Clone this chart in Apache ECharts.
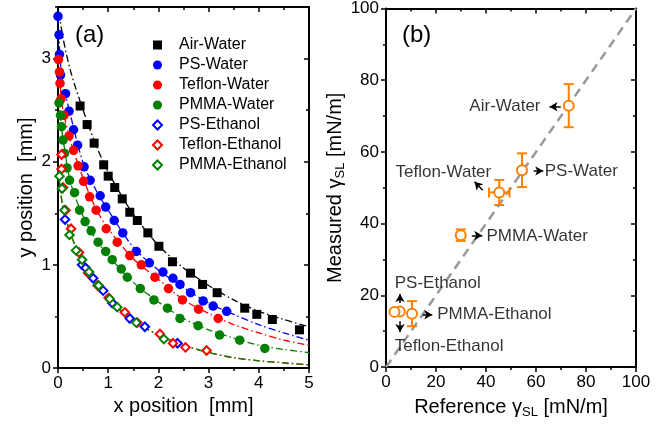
<!DOCTYPE html>
<html>
<head>
<meta charset="utf-8">
<script src="https://cdn.jsdelivr.net/npm/echarts@6/dist/echarts.min.js"></script>
<style>
html, body { margin: 0; padding: 0; background: #fff; }
#main { width: 670px; height: 424px; }
</style>
</head>
<body>
<div id="main"></div>
<script>
// (a) meniscus profiles, points are [x mm, y mm]
var airWater = [[0.44,2.54],[0.58,2.36],[0.72,2.18],[0.91,1.97],[1.00,1.86],[1.13,1.75],[1.28,1.64],[1.43,1.51],[1.58,1.43],[1.79,1.31],[2.01,1.18],[2.28,1.03],[2.64,0.92],[2.88,0.81],[3.17,0.73],[3.72,0.58],[3.96,0.52],[4.27,0.47],[4.81,0.37]];
var psWater = [[0.00,3.41],[0.02,3.23],[0.03,3.04],[0.05,2.84],[0.15,2.66],[0.22,2.49],[0.31,2.31],[0.39,2.16],[0.52,1.95],[0.64,1.82],[0.84,1.67],[0.95,1.56],[1.12,1.43],[1.29,1.31],[1.56,1.13],[1.82,1.02],[2.09,0.93],[2.29,0.87],[2.43,0.81],[2.64,0.73],[2.89,0.65],[3.09,0.60],[3.36,0.55]];
var teflonWater = [[0.01,2.99],[0.03,2.87],[0.04,2.76],[0.06,2.61],[0.12,2.45],[0.22,2.25],[0.31,2.11],[0.40,1.96],[0.51,1.81],[0.63,1.66],[0.76,1.53],[0.96,1.35],[1.18,1.22],[1.43,1.09],[1.66,1.00],[1.93,0.88],[2.20,0.77],[2.48,0.66],[2.80,0.57],[3.19,0.48]];
var pmmaWater = [[0.02,2.57],[0.05,2.45],[0.07,2.34],[0.10,2.21],[0.13,2.08],[0.18,1.94],[0.23,1.82],[0.33,1.70],[0.43,1.53],[0.54,1.42],[0.66,1.33],[0.80,1.22],[0.95,1.13],[1.08,1.05],[1.26,0.96],[1.38,0.88],[1.64,0.77],[1.91,0.66],[2.18,0.58],[2.43,0.48],[2.79,0.41],[3.22,0.32],[3.62,0.27],[4.12,0.19]];
var psEthanol = [[0.14,1.44],[0.48,1.00],[0.55,0.97],[0.70,0.87],[0.90,0.75],[1.08,0.63],[1.43,0.48],[1.73,0.40],[2.38,0.24]];
var teflonEthanol = [[0.07,2.07],[0.07,1.93],[0.10,1.75],[0.15,1.53],[0.26,1.35],[0.42,1.12],[0.60,0.92],[0.79,0.80],[1.01,0.68],[1.33,0.54],[1.58,0.44],[2.03,0.33],[2.29,0.24],[2.54,0.20],[2.96,0.17]];
var pmmaEthanol = [[0.03,1.86],[0.08,1.74],[0.13,1.53],[0.23,1.29],[0.36,1.14],[0.48,1.05],[0.62,0.93],[0.81,0.80],[1.03,0.67],[1.18,0.59],[1.56,0.44],[2.11,0.28]];

// fitted curves
var fitAir = [[0.02,3.45],[0.1,3.2],[0.25,2.88],[0.5,2.5],[0.75,2.17],[1,1.9],[1.5,1.49],[2,1.19],[2.5,0.97],[3,0.8],[3.5,0.66],[4,0.55],[4.5,0.47],[5,0.4]];
var fitPS = [[0,3.4],[0.05,2.95],[0.1,2.76],[0.25,2.45],[0.5,1.99],[0.75,1.73],[1,1.53],[1.5,1.17],[2,0.95],[2.5,0.78],[3,0.63],[3.5,0.52],[4,0.42],[4.5,0.34],[5,0.27]];
var fitTeflon = [[0,3.0],[0.05,2.7],[0.1,2.5],[0.25,2.2],[0.5,1.84],[0.75,1.55],[1,1.35],[1.5,1.06],[2,0.86],[2.5,0.66],[3,0.53],[3.5,0.42],[4,0.34],[4.5,0.27],[5,0.22]];
var fitPMMA = [[0,2.6],[0.05,2.42],[0.1,2.22],[0.25,1.8],[0.5,1.47],[0.75,1.25],[1,1.09],[1.5,0.83],[2,0.64],[2.5,0.48],[3,0.37],[3.5,0.29],[4,0.22],[4.5,0.18],[5,0.15]];
var fitEthanol = [[0,1.95],[0.05,1.72],[0.1,1.56],[0.25,1.3],[0.5,1.02],[0.75,0.82],[1,0.67],[1.5,0.46],[2,0.32],[2.5,0.22],[3,0.15],[3.5,0.1],[4,0.07],[4.5,0.05],[5,0.03]];

// (b) surface tension, mN/m
var pairNames = ['Air-Water','PS-Water','Teflon-Water','PMMA-Water','PS-Ethanol','Teflon-Ethanol','PMMA-Ethanol'];
var refGamma = [73.1, 54.4, 45.3, 29.9, 5.5, 3.4, 10.4];
var measGamma = [72.9, 54.9, 48.7, 36.8, 15.5, 15.4, 14.9];
var refErr = [0, 0, 4.1, 0, 0, 0, 0];
var measErr = [6.0, 4.7, 3.5, 1.6, 0, 0, 3.5];
var diagonal = [[0,0],[100,100]];

// labels [x, y, text, side] and arrows [x1, y1, x2, y2]
var notes = [[62,72.6,'Air-Water','left'],[63.3,54.7,'PS-Water','right'],[3.6,54.4,'Teflon-Water','right'],[40,36.4,'PMMA-Water','right'],[3.3,23.4,'PS-Ethanol','right'],[20.3,14.6,'PMMA-Ethanol','right'],[3.3,5.8,'Teflon-Ethanol','right']];
var arrows = [[69.9,72.6,65.4,72.6],[59.1,54.7,62.9,54.7],[38.7,49.3,35.4,51.7],[34.3,36.7,38.5,36.7],[5.6,17.9,5.6,20.4],[5.6,12.8,5.6,9.8],[14.7,14.6,18.5,14.6]];

var FONT = 'Liberation Sans, Arial, sans-serif';
var ORANGE = '#ff8000';

var chart = echarts.init(document.getElementById('main'));

function frameAxis(o) {
  var ax = {
    gridIndex: o.grid, position: o.pos, min: o.min, max: o.max, interval: o.interval,
    axisLine: { show: o.line !== false, onZero: false, lineStyle: { color: '#000', width: 2 } },
    axisTick: { show: true, inside: !!o.inside, length: o.tick || 5, lineStyle: { color: '#000', width: 1.5 } },
    minorTick: { show: !!o.minor, splitNumber: 2, length: 3, lineStyle: { color: '#000', width: 1.5 } },
    splitLine: { show: false },
    axisLabel: { show: !!o.label, color: '#000', fontSize: 17, fontFamily: FONT, margin: 7 },
    name: o.name || '', nameLocation: 'middle', nameGap: o.nameGap || 0,
    nameTextStyle: { color: '#000', fontSize: 20, fontFamily: FONT, rich: o.rich }
  };
  if (o.ticks) {
    ax.axisTick.customValues = o.ticks;
    ax.axisLabel.customValues = o.ticks;
  }
  return ax;
}

var subRich = {
  n: { fontSize: 20, fontFamily: FONT, color: '#000', lineHeight: 24, verticalAlign: 'middle' },
  s: { fontSize: 13, fontFamily: FONT, color: '#000', lineHeight: 24, padding: [10, 0, 0, 0], verticalAlign: 'middle' }
};

function curve(data, color, z) {
  return {
    type: 'line', xAxisIndex: 0, yAxisIndex: 0, data: data, smooth: 0.3, showSymbol: false,
    silent: true, z: z || 1,
    lineStyle: { color: color, width: 1.3, type: [7, 3, 1.5, 3] }
  };
}

function pts(name, data, symbol, color, size) {
  var s = {
    type: 'scatter', name: name, xAxisIndex: 0, yAxisIndex: 0, data: data,
    symbol: symbol, symbolSize: size, z: 3,
    itemStyle: { color: color, opacity: 1 }
  };
  if (symbol.indexOf('empty') === 0) {
    s.itemStyle = { color: color, borderColor: color, borderWidth: 1.5, opacity: 1 };
  }
  return s;
}

var errData = refGamma.map(function (x, i) { return [x, measGamma[i], refErr[i], measErr[i]]; });

function renderErr(params, api) {
  var x = api.value(0), y = api.value(1), ex = api.value(2), ey = api.value(3);
  var style = { stroke: ORANGE, lineWidth: 2 };
  var kids = [];
  var cap = 5;
  if (ey > 0) {
    var t = api.coord([x, y + ey]), b = api.coord([x, y - ey]);
    kids.push({ type: 'line', shape: { x1: t[0], y1: t[1], x2: b[0], y2: b[1] }, style: style });
    kids.push({ type: 'line', shape: { x1: t[0] - cap, y1: t[1], x2: t[0] + cap, y2: t[1] }, style: style });
    kids.push({ type: 'line', shape: { x1: b[0] - cap, y1: b[1], x2: b[0] + cap, y2: b[1] }, style: style });
  }
  if (ex > 0) {
    var l = api.coord([x - ex, y]), r = api.coord([x + ex, y]);
    kids.push({ type: 'line', shape: { x1: l[0], y1: l[1], x2: r[0], y2: r[1] }, style: style });
    kids.push({ type: 'line', shape: { x1: l[0], y1: l[1] - cap, x2: l[0], y2: l[1] + cap }, style: style });
    kids.push({ type: 'line', shape: { x1: r[0], y1: r[1] - cap, x2: r[0], y2: r[1] + cap }, style: style });
  }
  return { type: 'group', children: kids };
}

var option = {
  backgroundColor: '#fff',
  animation: false,
  textStyle: { fontFamily: FONT },
  title: [
    { text: '(a)', left: 70, top: 18, textStyle: { fontSize: 24, fontWeight: 'normal', color: '#000', fontFamily: FONT } },
    { text: '(b)', left: 397, top: 18, textStyle: { fontSize: 24, fontWeight: 'normal', color: '#000', fontFamily: FONT } }
  ],
  legend: {
    data: pairNames,
    orient: 'vertical', left: 147, top: 32,
    itemWidth: 9, itemHeight: 9, itemGap: 4,
    textStyle: { fontSize: 16, color: '#000', fontFamily: FONT, padding: [0, 0, 0, 12] }
  },
  grid: [
    { left: 58, top: 7, width: 251, height: 361 },
    { left: 386, top: 7, width: 250, height: 361 }
  ],
  xAxis: [
    frameAxis({ grid: 0, pos: 'bottom', min: 0, max: 5, interval: 1, minor: true, label: true, name: 'x position  [mm]', nameGap: 27 }),
    frameAxis({ grid: 0, pos: 'top', min: 0, max: 5, interval: 1, minor: true, inside: true }),
    frameAxis({ grid: 1, pos: 'bottom', min: 0, max: 100, interval: 20, minor: true, label: true,
      name: '{n|Reference γ}{s|SL}{n| [mN/m]}', nameGap: 26, rich: subRich }),
    frameAxis({ grid: 1, pos: 'top', min: 0, max: 100, interval: 20, minor: true, inside: true })
  ],
  yAxis: [
    frameAxis({ grid: 0, pos: 'left', min: 0, max: 3.5, interval: 1, label: true, ticks: [0, 1, 2, 3], name: 'y position  [mm]', nameGap: 22 }),
    frameAxis({ grid: 0, pos: 'left', min: 0, max: 3.5, interval: 0.5, line: false, tick: 3 }),
    frameAxis({ grid: 0, pos: 'right', min: 0, max: 3.5, interval: 1, inside: true, ticks: [0, 1, 2, 3] }),
    frameAxis({ grid: 0, pos: 'right', min: 0, max: 3.5, interval: 0.5, line: false, inside: true, tick: 3 }),
    frameAxis({ grid: 1, pos: 'left', min: 0, max: 100, interval: 20, minor: true, label: true,
      name: '{n|Measured γ}{s|SL}{n| [mN/m]}', nameGap: 29, rich: subRich }),
    frameAxis({ grid: 1, pos: 'right', min: 0, max: 100, interval: 20, minor: true, inside: true })
  ],
  series: [
    curve(fitAir, '#000'),
    curve(fitPS, '#0000ff'),
    curve(fitTeflon, '#ff0000'),
    curve(fitPMMA, '#008000'),
    curve(fitEthanol, '#ff0000'),
    curve(fitEthanol, '#008000', 2),
    pts('Air-Water', airWater, 'rect', '#000', 9),
    pts('PS-Water', psWater, 'circle', '#0000ff', 9.5),
    pts('Teflon-Water', teflonWater, 'circle', '#ff0000', 9.5),
    pts('PMMA-Water', pmmaWater, 'circle', '#008000', 9.5),
    pts('PS-Ethanol', psEthanol, 'emptyDiamond', '#0000ff', 8.5),
    pts('Teflon-Ethanol', teflonEthanol, 'emptyDiamond', '#ff0000', 8.5),
    pts('PMMA-Ethanol', pmmaEthanol, 'emptyDiamond', '#008000', 8.5),
    {
      type: 'line', xAxisIndex: 2, yAxisIndex: 4, data: diagonal, showSymbol: false, silent: true, z: 1,
      lineStyle: { color: '#999', width: 2.5, type: [9, 6] }
    },
    {
      type: 'custom', xAxisIndex: 2, yAxisIndex: 4, data: errData, renderItem: renderErr, z: 2, silent: true
    },
    {
      type: 'scatter', xAxisIndex: 2, yAxisIndex: 4, z: 3, silent: true,
      data: errData.map(function (d) { return [d[0], d[1]]; }),
      symbol: 'emptyCircle', symbolSize: 10,
      itemStyle: { color: ORANGE, borderColor: ORANGE, borderWidth: 2.5, opacity: 1 }
    },
    {
      type: 'scatter', xAxisIndex: 2, yAxisIndex: 4, z: 4, silent: true,
      symbolSize: 1, itemStyle: { color: 'transparent' },
      data: notes.map(function (n) {
        return { value: [n[0], n[1]], name: n[2], label: { position: n[3] } };
      }),
      label: { show: true, formatter: '{b}', distance: 0, color: '#000', fontSize: 17, fontFamily: FONT },
      markLine: {
        silent: true, symbol: ['none', 'arrow'], symbolSize: [7, 8],
        lineStyle: { color: '#000', width: 1.5, type: 'solid' },
        label: { show: false },
        data: arrows.map(function (a) { return [{ coord: [a[0], a[1]] }, { coord: [a[2], a[3]] }]; })
      }
    }
  ]
};

chart.setOption(option);
</script>
</body>
</html>
